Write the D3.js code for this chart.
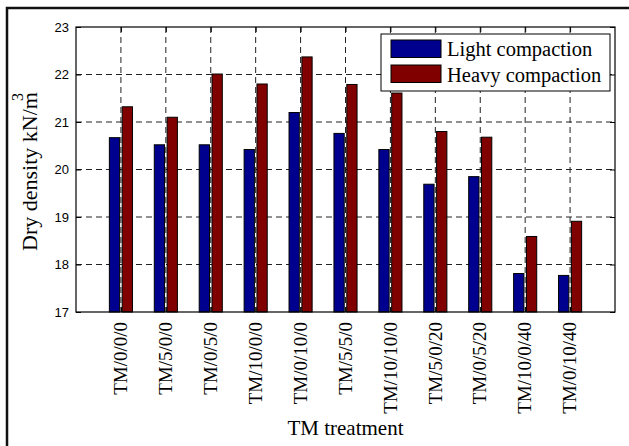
<!DOCTYPE html>
<html>
<head>
<meta charset="utf-8">
<script src="https://cdn.jsdelivr.net/npm/d3@7"></script>
<style>
  body { margin: 0; background: #fff; }
  svg { display: block; }
</style>
</head>
<body>
<svg id="chart" width="629" height="446"></svg>
<script>
// data
const treatments = ['TM/0/0/0', 'TM/5/0/0', 'TM/0/5/0', 'TM/10/0/0', 'TM/0/10/0', 'TM/5/5/0',
                    'TM/10/10/0', 'TM/5/0/20', 'TM/0/5/20', 'TM/10/0/40', 'TM/0/10/40'];
const lightCompaction = [20.67, 20.52, 20.52, 20.42, 21.20, 20.76, 20.42, 19.69, 19.85, 17.81, 17.77];
const heavyCompaction = [21.32, 21.10, 22.01, 21.80, 22.37, 21.79, 21.61, 20.80, 20.68, 18.59, 18.91];
const seriesNames = ['Light compaction', 'Heavy compaction'];
const yTicks = [17, 18, 19, 20, 21, 22, 23];

const colors = ['#00008f', '#800000'];
const serif = '"Liberation Serif", "Times New Roman", serif';
const sans = '"Liberation Sans", Arial, sans-serif';

const margin = {top: 27, right: 14, bottom: 134, left: 76};
const width = 629 - margin.left - margin.right;
const height = 446 - margin.top - margin.bottom;

const svg = d3.select('#chart');

// figure outline (only top/left edges visible)
svg.append('path')
  .attr('d', 'M7,446 V8 H629')
  .attr('fill', 'none')
  .attr('stroke', '#111')
  .attr('stroke-width', 2.5);

const chart = svg.append('g')
  .attr('transform', `translate(${margin.left}, ${margin.top})`);

const xScale = d3.scaleLinear()
  .domain([0, treatments.length + 1])
  .range([0, width]);

const yScale = d3.scaleLinear()
  .domain([17, 23])
  .range([height, 0]);

// grouped bar offsets like matlab's bar(): groupwidth 0.571, bar width 0.8 of half
const groupW = Math.min(0.8, 2 / (2 + 1.5));
const offsets = [-groupW / 4, groupW / 4];
const barW = xScale(groupW / 2 * 0.8) - xScale(0);

// grid
const xTickVals = d3.range(1, treatments.length + 1);
chart.append('g')
  .selectAll('line')
  .data(xTickVals)
  .join('line')
    .attr('x1', d => xScale(d)).attr('x2', d => xScale(d))
    .attr('y1', 0).attr('y2', height)
    .attr('stroke', '#222')
    .attr('stroke-dasharray', '6,4');

chart.append('g')
  .selectAll('line')
  .data(yTicks.slice(1, -1))
  .join('line')
    .attr('x1', 0).attr('x2', width)
    .attr('y1', d => yScale(d)).attr('y2', d => yScale(d))
    .attr('stroke', '#222')
    .attr('stroke-dasharray', '6,4');

// bars
const seriesData = [lightCompaction, heavyCompaction];
seriesData.forEach((vals, s) => {
  chart.append('g')
    .selectAll('rect')
    .data(vals)
    .join('rect')
      .attr('x', (d, i) => xScale(i + 1 + offsets[s]) - barW / 2)
      .attr('y', d => yScale(d))
      .attr('width', barW)
      .attr('height', d => height - yScale(d))
      .attr('fill', colors[s])
      .attr('stroke', '#000')
      .attr('stroke-width', 1);
});

// axes box with inward ticks
chart.append('rect')
  .attr('width', width).attr('height', height)
  .attr('fill', 'none').attr('stroke', '#000').attr('stroke-width', 1.2);

const yAxis = chart.append('g')
  .call(d3.axisLeft(yScale).tickValues(yTicks).tickSize(-5).tickPadding(7).tickFormat(d3.format('d')));
yAxis.select('.domain').remove();
yAxis.selectAll('text').attr('font-family', sans).attr('font-size', 13).attr('fill', '#000');

const yAxisR = chart.append('g')
  .attr('transform', `translate(${width},0)`)
  .call(d3.axisRight(yScale).tickValues(yTicks).tickSize(-5).tickFormat(''));
yAxisR.select('.domain').remove();

const xTop = chart.append('g')
  .call(d3.axisTop(xScale).tickValues(xTickVals).tickSize(-5).tickFormat(''));
xTop.select('.domain').remove();

const xAxis = chart.append('g')
  .attr('transform', `translate(0, ${height})`)
  .call(d3.axisBottom(xScale).tickValues(xTickVals).tickSize(-5).tickFormat(i => treatments[i - 1]));
xAxis.select('.domain').remove();
xAxis.selectAll('text')
  .attr('font-family', serif)
  .attr('font-size', 19)
  .attr('fill', '#000')
  .attr('text-anchor', 'end')
  .attr('transform', 'rotate(-90)')
  .attr('x', -10)
  .attr('y', 0)
  .attr('dy', '0.3em');

// axis titles
svg.append('text')
  .attr('x', margin.left + width / 2)
  .attr('y', 435)
  .attr('text-anchor', 'middle')
  .attr('font-family', serif)
  .attr('font-size', 21)
  .text('TM treatment');

const yLabel = svg.append('text')
  .attr('transform', `translate(37, ${margin.top + height / 2 + 2}) rotate(-90)`)
  .attr('text-anchor', 'middle')
  .attr('font-family', serif)
  .attr('font-size', 22);
yLabel.append('tspan').text('Dry density kN/m');
yLabel.append('tspan').attr('dx', -9).attr('dy', -14).attr('font-size', 16).text('3');

// legend
const legend = svg.append('g').attr('transform', 'translate(381, 34)');
legend.append('rect')
  .attr('width', 229).attr('height', 57)
  .attr('fill', '#fff').attr('stroke', '#000').attr('stroke-width', 1);
seriesNames.forEach((name, s) => {
  legend.append('rect')
    .attr('x', 10).attr('y', 6 + s * 25)
    .attr('width', 50).attr('height', 17.5)
    .attr('fill', colors[s]).attr('stroke', '#000').attr('stroke-width', 1);
  legend.append('text')
    .attr('x', 66).attr('y', 21.5 + s * 26)
    .attr('font-family', serif)
    .attr('font-size', 20.5)
    .text(name);
});
</script>
</body>
</html>
